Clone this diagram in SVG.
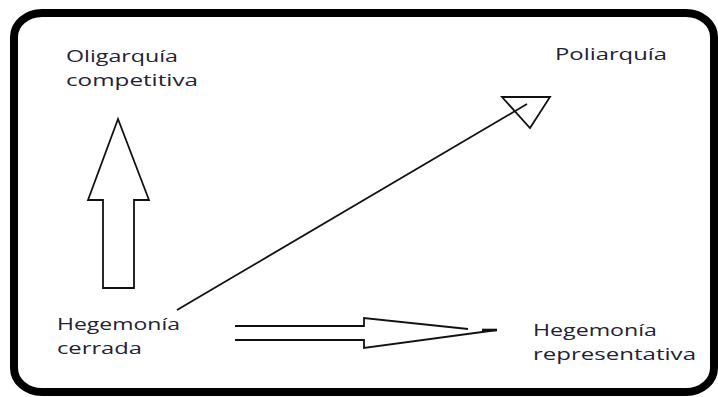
<svg xmlns="http://www.w3.org/2000/svg" width="718" height="397" viewBox="0 0 718 397">
<style>
.lbl{font-family:"Open Sans","Noto Sans","DejaVu Sans",sans-serif;font-size:17px;fill:#222233;}
.shape{fill:none;stroke:#111;stroke-width:1.8;stroke-linejoin:miter;}
</style>
<rect x="0" y="0" width="718" height="397" fill="#ffffff"/>
<g id="frame">
<rect x="14" y="13" width="700" height="379" rx="28" ry="24" fill="none" stroke="#000" stroke-width="8"/>
</g>
<g id="oligarquia">
<text class="lbl" x="66" y="62" textLength="112" lengthAdjust="spacingAndGlyphs">Oligarquía</text>
<text class="lbl" x="66" y="86" textLength="132" lengthAdjust="spacingAndGlyphs">competitiva</text>
</g>
<g id="poliarquia">
<text class="lbl" x="555" y="60" textLength="112" lengthAdjust="spacingAndGlyphs">Poliarquía</text>
</g>
<g id="hegemonia-cerrada">
<text class="lbl" x="57" y="330" textLength="123" lengthAdjust="spacingAndGlyphs">Hegemonía</text>
<text class="lbl" x="57" y="354" textLength="85" lengthAdjust="spacingAndGlyphs">cerrada</text>
</g>
<g id="hegemonia-representativa">
<text class="lbl" x="533" y="336" textLength="124" lengthAdjust="spacingAndGlyphs">Hegemonía</text>
<text class="lbl" x="533" y="360" textLength="163" lengthAdjust="spacingAndGlyphs">representativa</text>
</g>
<g id="connectors">
<polygon class="shape" points="118,119 149,200 134,200 134,288 103,288 103,200 88,200"/>
<line class="shape" x1="177" y1="310" x2="527" y2="104" stroke-width="1.3"/>
<polygon class="shape" points="502,97 550,97 530,128" stroke-width="1.6"/>
<polyline class="shape" points="235,326 364,326 364,318 468,329"/>
<polyline class="shape" points="235,340 364,340 364,348 497,330"/>
<line x1="482" y1="330" x2="497" y2="330" stroke="#111" stroke-width="2.6"/>
</g>
</svg>
